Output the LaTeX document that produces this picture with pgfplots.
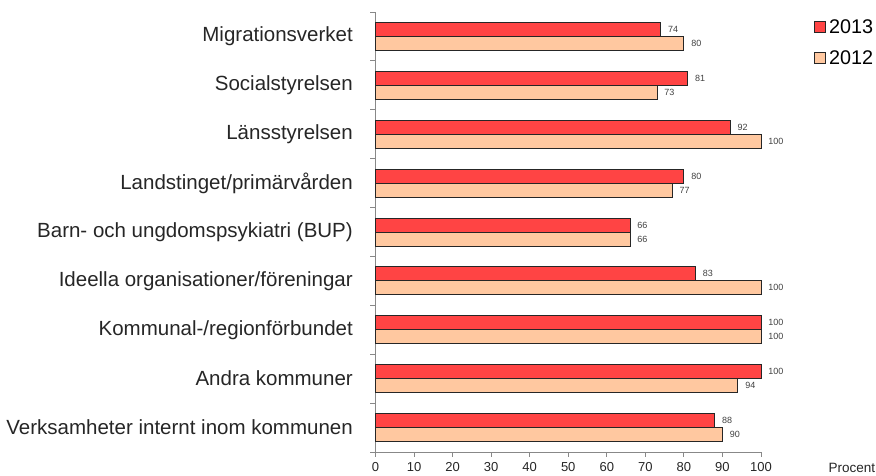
\documentclass[border=0pt]{standalone}
\usepackage{pgfplots}
\pgfplotsset{compat=1.18}
\usepackage{fontspec}
\setmainfont{Liberation Sans}
\definecolor{cred}{RGB}{255,68,68}
\definecolor{cpeach}{RGB}{255,200,160}
\definecolor{axgray}{RGB}{136,136,136}
\begin{document}
\begin{tikzpicture}
\useasboundingbox (-375.5pt,-24pt) rectangle (500.5pt,452pt);
\begin{axis}[
  at={(0pt,0pt)}, anchor=south west,
  scale only axis, width=385.5pt, height=440pt,
  xbar, bar width=14pt,
  xmin=0, xmax=100, ymin=-0.5, ymax=8.5,
  clip=false,
  axis x line*=bottom, axis y line*=left,
  axis line style={axgray, line width=0.8pt},
  every tick/.style={axgray, line width=0.8pt},
  tick align=outside,
  xtick={0,10,...,100},
  major tick length=5pt,
  ytick={0,...,8},
  yticklabels={Verksamheter internt inom kommunen, Andra kommuner, Kommunal-/regionförbundet, Ideella organisationer/föreningar, Barn- och ungdomspsykiatri (BUP), Landstinget/primärvården, Länsstyrelsen, Socialstyrelsen, Migrationsverket},
  major y tick style={draw=none},
  minor ytick={-0.5,0.5,...,8.5},
  minor y tick style={draw=axgray, line width=0.8pt},
  minor tick length=5pt,
  /pgf/number format/assume math mode=true,
  xticklabel style={font=\fontsize{13}{15}\selectfont, inner sep=0pt, anchor=north, yshift=-5pt, text=black!85},
  yticklabel style={font=\fontsize{20.5}{24}\selectfont, inner sep=0pt, anchor=east, xshift=-17.5pt, text=black!85},
  xlabel={Procent},
  xlabel style={font=\fontsize{13.5}{15}\selectfont, at={(rel axis cs:1.236,-0.036)}, anchor=center, inner sep=0pt, text=black!85},
  nodes near coords,
  every node near coord/.append style={font=\fontsize{9}{10}\selectfont, text=black!75, anchor=west, inner sep=0pt, xshift=7pt},
  legend style={at={(1.1375,0.984)}, anchor=north west, draw=none, fill=none, inner sep=0pt,
    font=\fontsize{19.8}{22}\selectfont, row sep=16pt, nodes={inner xsep=3pt, inner ysep=0pt}},
  legend cell align=left,
  legend image code/.code={\draw[#1, line width=0.8pt] (0pt,-5.5pt) rectangle (11pt,5.5pt);},
  reverse legend,
]
\addplot[draw=black!85, fill=cpeach, line width=0.8pt, bar shift=-7pt] coordinates {
  (90,0) (94,1) (100,2) (100,3) (66,4) (77,5) (100,6) (73,7) (80,8)};
\addlegendentry{2012}
\addplot[draw=black!85, fill=cred, line width=0.8pt, bar shift=7pt] coordinates {
  (88,0) (100,1) (100,2) (83,3) (66,4) (80,5) (92,6) (81,7) (74,8)};
\addlegendentry{2013}
\end{axis}
\end{tikzpicture}
\end{document}
